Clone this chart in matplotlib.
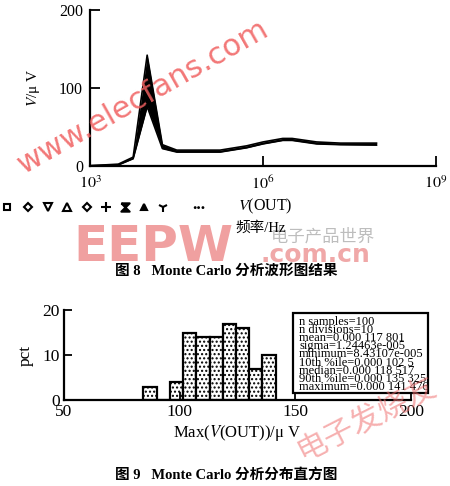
import matplotlib
matplotlib.use("Agg")
import matplotlib.pyplot as plt
import numpy as np
from matplotlib.patches import Rectangle

plt.rcParams['font.family'] = ['Liberation Serif', 'Noto Sans CJK SC']
plt.rcParams['mathtext.fontset'] = 'stix'
plt.rcParams['hatch.linewidth'] = 1.0

# ---- Figure 8 data: Monte Carlo waveform envelope ----
freq_hz = [1e3, 3.1e3, 5.6e3, 9.8e3, 1.8e4, 3.2e4, 8e4, 1.8e5, 5.2e5,
           1e6, 2.2e6, 3.2e6, 8.5e6, 2.2e7, 9.3e7]
v_upper = [0, 2, 11, 142, 27, 20, 20, 20, 25.5, 30.5, 35, 35, 30.5, 29, 29]
v_lower = [0, 1, 9, 76, 22, 17.5, 17.5, 17.5, 23, 28, 32.5, 32.5, 28, 27, 26.5]
top_xticks = [1e3, 1e6, 1e9]
top_xticklabels = [r'$10^{3}$', r'$10^{6}$', r'$10^{9}$']
top_yticks = [0, 100, 200]

# ---- Figure 9 data: histogram of Max(V(OUT)) ----
bin_edges = [84.31, 90.03, 95.75, 101.46, 107.18, 112.90, 118.62, 124.33,
             130.05, 135.76, 141.48]
bin_pct = [3, 0, 4, 15, 14, 14, 17, 16, 7, 10]
hist_xticks = [50, 100, 150, 200]
hist_yticks = [0, 10, 20]
stats_lines = ["n samples=100", "n divisions=10", "mean=0.000 117 801",
               "sigma=1.24463e-005", "minimum=8.43107e-005",
               "10th %ile=0.000 102 5", "median=0.000 118 517",
               "90th %ile=0.000 135 325", "maximum=0.000 141 476"]

W, H = 450, 486
fig = plt.figure(figsize=(W / 100, H / 100), dpi=100)

# overlay in pixel coordinates for annotations
ov = fig.add_axes([0, 0, 1, 1], zorder=-1)
ov.set_xlim(0, W)
ov.set_ylim(H, 0)
ov.axis('off')

# background watermarks
ov.text(153, 247, "EEPW", fontsize=36, fontweight='bold', family='DejaVu Sans',
        color='#f0a0a0', ha='center', va='center')
ov.text(323, 237, "电子产品世界", fontsize=12.5, family='Noto Sans CJK SC',
        color='#bdbdbd', ha='center', va='center')
ov.text(315, 255, ".com.cn", fontsize=18, fontweight='bold', family='DejaVu Sans',
        color='#f0a8a8', ha='center', va='center')

def px2fig(x0, y0, x1, y1):
    return [x0 / W, 1 - y1 / H, (x1 - x0) / W, (y1 - y0) / H]

# ---------- Figure 8 ----------
ax1 = fig.add_axes(px2fig(90, 10, 436, 165.7))
ax1.set_xscale('log')
ax1.fill_between(freq_hz, v_lower, v_upper, color='black', lw=0)
ax1.plot(freq_hz, v_upper, color='black', lw=1.2)
ax1.plot(freq_hz, v_lower, color='black', lw=1.2)
ax1.set_xlim(1e3, 1e9)
ax1.set_ylim(0, 200)
ax1.set_xticks(top_xticks)
ax1.set_xticklabels(top_xticklabels, fontsize=11)
ax1.xaxis.set_minor_locator(matplotlib.ticker.NullLocator())
ax1.set_yticks(top_yticks)
ax1.tick_params(labelsize=11.5, direction='in', length=7, width=1.3, pad=5)
ax1.tick_params(axis='x', pad=7)
for s in ['top', 'right']:
    ax1.spines[s].set_visible(False)
for s in ['left', 'bottom']:
    ax1.spines[s].set_linewidth(1.6)
ax1.set_ylabel(r'$\mathit{V}$/μ V', fontsize=11, labelpad=12)
ax1.patch.set_alpha(0)

# marker "legend" row
row_y = 207
marker_x = [7, 28, 48, 67, 87, 106, 125, 144, 163]
hourglass = [(-1, 1), (1, 1), (-1, -1), (1, -1), (-1, 1)]
marker_specs = [('s', 'none', 5), ('D', 'none', 4.5), ('v', 'none', 5.5),
                ('^', 'none', 5.5), ('D', 'none', 4.5), ('+', 'k', 6.5),
                (hourglass, 'k', 6), ('^', 'k', 5), ('1', 'k', 7)]
for xm, (m, fc, ms) in zip(marker_x, marker_specs):
    ov.plot([xm], [row_y], marker=m, ms=ms, mfc=fc, mec='k', mew=1.5,
            color='k', clip_on=False)
ov.text(199, row_y - 2, "...", fontsize=12.5, ha='center', va='center', fontweight='bold')
ov.text(238, row_y - 1, r'$\mathit{V}$(OUT)', fontsize=11.5, ha='left', va='center')
ov.text(235, 228, "频率/Hz", fontsize=10.5, ha='left', va='center',
        family=['Liberation Serif', 'Noto Sans CJK SC'])
ov.text(226, 271, "图 8   Monte Carlo 分析波形图结果", fontsize=10.5,
        ha='center', va='center', fontweight='bold',
        family=['Liberation Serif', 'Noto Sans CJK SC'])

# ---------- Figure 9 ----------
ax2 = fig.add_axes(px2fig(64, 310, 411, 400))
widths = np.diff(bin_edges)
ax2.bar(bin_edges[:-1], bin_pct, width=widths, align='edge', color='white',
        edgecolor='black', lw=1.6, hatch='....')
ax2.set_xlim(50, 200)
ax2.set_ylim(0, 20)
ax2.set_xticks(hist_xticks)
ax2.set_yticks(hist_yticks)
ax2.tick_params(labelsize=12.5, direction='in', length=6, width=1.3, pad=3)
for s in ['top', 'right']:
    ax2.spines[s].set_visible(False)
for s in ['left', 'bottom']:
    ax2.spines[s].set_linewidth(1.6)
ax2.set_ylabel('pct', fontsize=12.5, labelpad=6)
ax2.set_xlabel(r'Max($\mathit{V}$(OUT))/μ V', fontsize=12, labelpad=2)
ax2.patch.set_alpha(0)

# stats box
ov.add_patch(Rectangle((293, 313), 135, 80, fill=True, fc='white', ec='black',
                       lw=1.6, zorder=5))
line_h = 8.1
for i, t in enumerate(stats_lines):
    ov.text(299, 322 + i * line_h, t, fontsize=9, ha='left', va='center',
            zorder=6)

ov.text(226, 475, "图 9   Monte Carlo 分析分布直方图", fontsize=10.5,
        ha='center', va='center', fontweight='bold',
        family=['Liberation Serif', 'Noto Sans CJK SC'])

# red watermarks on top
wm = fig.add_axes([0, 0, 1, 1], zorder=10)
wm.set_xlim(0, W)
wm.set_ylim(H, 0)
wm.axis('off')
wm.text(143, 97, "www.elecfans.com", fontsize=22, family='DejaVu Sans',
        color='#f06060', alpha=0.85, rotation=29.5, ha='center', va='center',
        rotation_mode='anchor')
wm.text(366, 419, "电子发烧友", fontsize=22, family='Noto Sans CJK SC',
        color='#f07070', alpha=0.55, rotation=27, ha='center', va='center',
        rotation_mode='anchor')

fig.savefig("out.png", dpi=100)
